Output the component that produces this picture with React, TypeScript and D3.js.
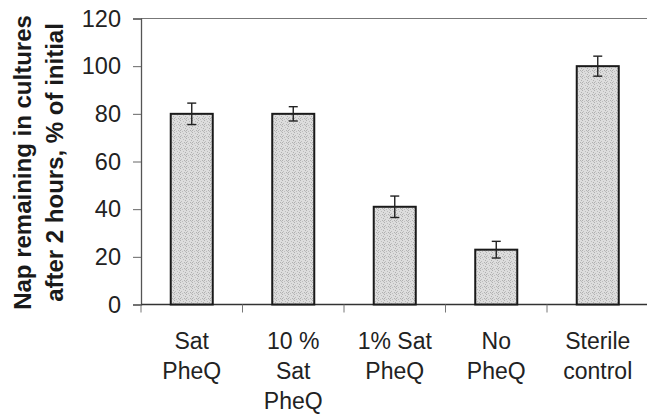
import { useEffect, useRef } from "react";
import * as d3 from "d3";

// Chart data
const categories = ["Sat\nPheQ", "10 %\nSat\nPheQ", "1% Sat\nPheQ", "No\nPheQ", "Sterile\ncontrol"];
const values = [80, 80, 41, 23, 100];
const errors = [4.5, 3, 4.5, 3.5, 4.2];
const yTicks = [0, 20, 40, 60, 80, 100, 120];
const titleLines = ["Nap remaining in cultures", "after 2 hours, % of initial"];

const width = 647;
const height = 415;
const margin = { top: 18.5, right: -1.5, bottom: 110, left: 141 };
const font = "'Liberation Sans', Arial, sans-serif";

// scattered dark specks for the stippled grey fill (6x6 tile)
const specks = [[0, 0], [3, 1], [5, 2], [1, 3], [4, 4], [2, 5], [0, 4], [5, 5]];

const drawChart = (node: SVGSVGElement) => {
    const svg = d3.select(node);
    svg.selectAll("*").remove();

    const x = d3.scaleBand<string>()
        .domain(categories)
        .range([margin.left, width - margin.right])
        .paddingInner(0.586)
        .paddingOuter(0.293);

    const y = d3.scaleLinear()
        .domain([0, 120])
        .range([height - margin.bottom - 0.5, margin.top]);

    // texture for the grey bars
    const defs = svg.append("defs");
    const pat = defs.append("pattern")
        .attr("id", "grain")
        .attr("width", 6)
        .attr("height", 6)
        .attr("patternUnits", "userSpaceOnUse");
    pat.append("rect").attr("width", 6).attr("height", 6).attr("fill", "#dddddd");
    pat.selectAll("rect.s")
        .data(specks)
        .join("rect")
        .attr("class", "s")
        .attr("x", (d) => d[0])
        .attr("y", (d) => d[1])
        .attr("width", 1)
        .attr("height", 1)
        .attr("fill", (d, i) => (i % 2 ? "#bdbdbd" : "#b0b0b0"));

    // top frame line
    svg.append("line")
        .attr("x1", margin.left)
        .attr("x2", width)
        .attr("y1", y(120))
        .attr("y2", y(120))
        .attr("stroke", "#777")
        .attr("stroke-width", 1.2);

    // y axis
    const yAxis = svg.append("g")
        .attr("transform", `translate(${margin.left},0)`)
        .call(d3.axisLeft(y).tickValues(yTicks).tickSize(8).tickPadding(12).tickFormat(d3.format("d")));
    yAxis.select(".domain").attr("stroke", "#555").attr("stroke-width", 1.3);
    yAxis.selectAll(".tick line").attr("stroke", "#666");
    yAxis.selectAll("text")
        .attr("font-family", font)
        .attr("font-size", 23.5)
        .attr("fill", "#222");

    // x axis line with ticks at category boundaries
    svg.append("line")
        .attr("x1", margin.left)
        .attr("x2", width)
        .attr("y1", y(0))
        .attr("y2", y(0))
        .attr("stroke", "#333")
        .attr("stroke-width", 1.5);
    const step = x.step();
    svg.append("g")
        .selectAll("line")
        .data(categories)
        .join("line")
        .attr("x1", (d) => x(d)! - x.paddingInner() * step / 2)
        .attr("x2", (d) => x(d)! - x.paddingInner() * step / 2)
        .attr("y1", y(0))
        .attr("y2", y(0) + 8)
        .attr("stroke", "#777");

    // bars
    svg.append("g")
        .selectAll("rect")
        .data(values)
        .join("rect")
        .attr("x", (d, i) => x(categories[i])!)
        .attr("y", (d) => y(d))
        .attr("width", x.bandwidth())
        .attr("height", (d) => y(0) - y(d))
        .attr("fill", "url(#grain)")
        .attr("stroke", "#1a1a1a")
        .attr("stroke-width", 2);

    // error bars
    const err = svg.append("g")
        .attr("stroke", "#222")
        .attr("stroke-width", 1.4);
    values.forEach((v, i) => {
        const cx = x(categories[i])! + x.bandwidth() / 2;
        const e = errors[i];
        err.append("line").attr("x1", cx).attr("x2", cx).attr("y1", y(v - e)).attr("y2", y(v + e));
        err.append("line").attr("x1", cx - 4.5).attr("x2", cx + 4.5).attr("y1", y(v + e)).attr("y2", y(v + e));
        err.append("line").attr("x1", cx - 4.5).attr("x2", cx + 4.5).attr("y1", y(v - e)).attr("y2", y(v - e));
    });

    // category labels
    svg.append("g")
        .attr("font-family", font)
        .attr("font-size", 23)
        .attr("fill", "#222")
        .attr("text-anchor", "middle")
        .selectAll("text")
        .data(categories)
        .join("text")
        .attr("transform", (d) => `translate(${x(d)! + x.bandwidth() / 2},349)`)
        .each(function (d) {
            d.split("\n").forEach((line, k) => {
                d3.select(this).append("tspan")
                    .attr("x", 0)
                    .attr("y", k * 30)
                    .text(line);
            });
        });

    // y title
    const midY = (y(0) + y(120)) / 2 + 1;
    svg.append("text")
        .attr("font-family", font)
        .attr("font-size", 24)
        .attr("font-weight", "bold")
        .attr("fill", "#1a1a1a")
        .attr("text-anchor", "middle")
        .attr("transform", `translate(0,${midY}) rotate(-90)`)
        .selectAll("tspan")
        .data(titleLines)
        .join("tspan")
        .attr("x", 0)
        .attr("y", (d, i) => 31 + i * 32)
        .text((d) => d);
};

export default function App() {
    const ref = useRef<SVGSVGElement>(null);

    useEffect(() => {
        if (ref.current) drawChart(ref.current);
    }, []);

    return (
        <svg
            ref={ref}
            width={width}
            height={height}
            style={{ position: "absolute", left: 0, top: 0, background: "#fff" }}
        />
    );
}
